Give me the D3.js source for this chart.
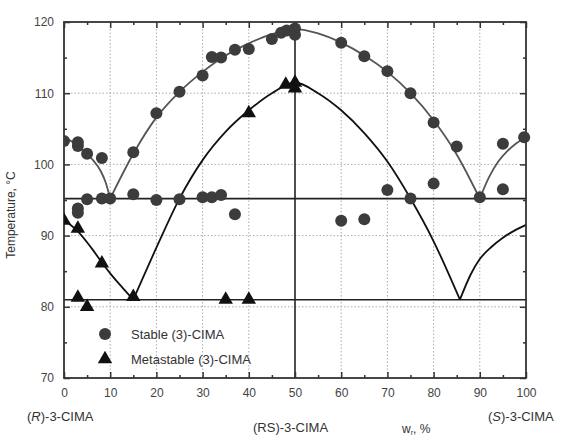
<!DOCTYPE html>
<html><head><meta charset="utf-8">
<script src="https://cdn.jsdelivr.net/npm/d3@7"></script>
<style>body{margin:0;background:#fff}svg{display:block}text{font-family:"Liberation Sans",Arial,sans-serif}</style>
</head><body>
<script>
// ---- data ----
const xTicks = [0,10,20,30,40,50,60,70,80,90,100];
const yTicks = [70,80,90,100,110,120];
const stableX = [0,3,3,5,8.2,15,20,25,30,32,34,37,40,45,47,48.2,50,50,60,65,70,75,80,85,95,99.6,
                 3,3,5,8.2,10,15,20,25,30,32,34,37,60,65,70,75,80,90,95];
const stableY = [103.3,103.1,102.6,101.5,100.9,101.7,107.2,110.2,112.5,115.1,115.0,116.1,116.2,117.6,118.5,118.8,119.1,118.2,117.1,115.2,113.1,110.0,105.9,102.5,102.9,103.8,
                 93.8,93.2,95.1,95.2,95.2,95.8,95.0,95.1,95.4,95.4,95.7,93.0,92.1,92.3,96.4,95.2,97.3,95.4,96.5];
const metaX = [0,3,8.2,15,3,5,35,40,40,48,50,50];
const metaY = [92.1,91.0,86.1,81.4,81.3,80.0,81.0,81.0,107.2,111.2,111.5,110.7];
// stable liquidus branches
const stableCurve1X = [0,2,4,6,8,9,10];
const stableCurve1Y = [103.8,103.1,102.1,100.8,99.0,97.5,95.2];
const stableCurve2X = [10,15,20,25,30,35,40,45,50,55,60,65,70,75,80,85,90];
const stableCurve2Y = [95.2,101.5,106.6,110.2,113.0,115.3,117.0,118.3,119.0,118.4,117.1,115.3,113.0,110.0,106.2,101.4,95.2];
const stableCurve3X = [90,92,94,96,98,100];
const stableCurve3Y = [95.2,98.2,100.4,101.9,103.0,103.9];
// metastable branches
const metaCurve1X = [0,3,6,8,10,12.5,15];
const metaCurve1Y = [92.2,90.6,88.2,86.4,84.7,82.8,81.0];
const metaCurve2X = [15,20,25,30,35,40,45,50,55,60,65,70,75,80,85.7];
const metaCurve2Y = [81.0,88.3,95.2,100.6,104.6,107.6,110.0,111.5,110.0,107.6,104.4,100.4,95.2,89.2,81.0];
const metaCurve3X = [85.7,88,90,92.5,95,97.5,100];
const metaCurve3Y = [81.0,84.5,86.7,88.4,89.7,90.7,91.5];
const eutecticTemps = [95.2, 81.0];
const racemateX = [50];
const legendLabels = ["Stable (3)-CIMA","Metastable (3)-CIMA"];

// ---- chart ----
const W=571,H=438;
const svg=d3.select("body").append("svg").attr("width",W).attr("height",H);
const x=d3.scaleLinear().domain([0,100]).range([64,526]);
const y=d3.scaleLinear().domain([70,120]).range([378,22]);
const [x0,x1]=x.range(), [y0,y1]=y.range();

// grid
const g=svg.append("g");
g.selectAll(".gx").data(xTicks.filter(t=>t>0&&t<100&&t!==50)).join("line")
 .attr("x1",d=>x(d)).attr("x2",d=>x(d)).attr("y1",y1).attr("y2",y0)
 .attr("stroke","#aaa").attr("stroke-width",1).attr("stroke-dasharray","1.5,2");
g.selectAll(".gy").data(yTicks.filter(t=>t>70&&t<120)).join("line")
 .attr("x1",x0).attr("x2",x1).attr("y1",d=>y(d)).attr("y2",d=>y(d))
 .attr("stroke","#aaa").attr("stroke-width",1).attr("stroke-dasharray","1.5,2");

// axes (ticks inside)
const minorX=d3.range(5,100,10), minorY=d3.range(75,120,10);
function axes(){
  const ax=svg.append("g");
  ax.append("g").attr("transform",`translate(0,${y0})`)
    .call(d3.axisBottom(x).tickValues(xTicks).tickSize(-6).tickPadding(10).tickFormat(d3.format("d")));
  ax.append("g").attr("transform",`translate(0,${y0})`)
    .call(d3.axisBottom(x).tickValues(minorX).tickSize(-3).tickFormat(""));
  ax.append("g").attr("transform",`translate(0,${y1})`)
    .call(d3.axisTop(x).tickValues(xTicks).tickSize(-6).tickFormat(""));
  ax.append("g").attr("transform",`translate(0,${y1})`)
    .call(d3.axisTop(x).tickValues(minorX).tickSize(-3).tickFormat(""));
  ax.append("g").attr("transform",`translate(${x0},0)`)
    .call(d3.axisLeft(y).tickValues(yTicks).tickSize(-6).tickPadding(10).tickFormat(d3.format("d")));
  ax.append("g").attr("transform",`translate(${x0},0)`)
    .call(d3.axisLeft(y).tickValues(minorY).tickSize(-3).tickFormat(""));
  ax.append("g").attr("transform",`translate(${x1},0)`)
    .call(d3.axisRight(y).tickValues(yTicks).tickSize(-6).tickFormat(""));
  ax.append("g").attr("transform",`translate(${x1},0)`)
    .call(d3.axisRight(y).tickValues(minorY).tickSize(-3).tickFormat(""));
  ax.selectAll(".domain").remove();
  ax.selectAll(".tick line").attr("stroke","#333").attr("stroke-width",1.5);
  ax.selectAll("text").attr("font-size",12).attr("fill","#444");
  svg.append("rect").attr("x",x0).attr("y",y1).attr("width",x1-x0).attr("height",y0-y1)
    .attr("fill","none").attr("stroke","#333").attr("stroke-width",1.8);
}

// horizontal eutectic lines & vertical racemate line
svg.selectAll(".eu").data(eutecticTemps).join("line")
  .attr("x1",x0).attr("x2",x1).attr("y1",d=>y(d)).attr("y2",d=>y(d))
  .attr("stroke","#222").attr("stroke-width",1.6);
svg.selectAll(".rac").data(racemateX).join("line")
  .attr("x1",d=>x(d)).attr("x2",d=>x(d)).attr("y1",y0).attr("y2",y1)
  .attr("stroke","#222").attr("stroke-width",1.6);

const line=d3.line().x(d=>x(d[0])).y(d=>y(d[1])).curve(d3.curveMonotoneX);
const zip=(a,b)=>a.map((v,i)=>[v,b[i]]);
[[stableCurve1X,stableCurve1Y],[stableCurve2X,stableCurve2Y],[stableCurve3X,stableCurve3Y]].forEach(([a,b])=>{
  svg.append("path").attr("d",line(zip(a,b))).attr("fill","none").attr("stroke","#555").attr("stroke-width",1.8);
});
[[metaCurve1X,metaCurve1Y],[metaCurve2X,metaCurve2Y],[metaCurve3X,metaCurve3Y]].forEach(([a,b])=>{
  svg.append("path").attr("d",line(zip(a,b))).attr("fill","none").attr("stroke","#111").attr("stroke-width",1.8);
});

axes();

// points
svg.append("clipPath").attr("id","pc").append("rect")
  .attr("x",x0).attr("y",y1-8).attr("width",x1-x0+8).attr("height",y0-y1+8);
svg.append("g").attr("clip-path","url(#pc)").selectAll("circle").data(zip(stableX,stableY)).join("circle")
  .attr("cx",d=>x(d[0])).attr("cy",d=>y(d[1])).attr("r",6).attr("fill","#3c3c3c");
const tri=d3.symbol().type(d3.symbolTriangle).size(90);
svg.append("g").attr("clip-path","url(#pc)").selectAll("path").data(zip(metaX,metaY)).join("path")
  .attr("d",tri).attr("transform",d=>`translate(${x(d[0])},${y(d[1])})`).attr("fill","#111");

// legend
const lg=svg.append("g");
lg.append("circle").attr("cx",105).attr("cy",334).attr("r",6).attr("fill","#3c3c3c");
lg.append("path").attr("d",tri).attr("transform","translate(105,359)").attr("fill","#111");
lg.selectAll("text").data(legendLabels).join("text")
  .attr("x",131).attr("y",(d,i)=>339+i*25).attr("font-size",13).attr("fill","#333").text(d=>d);

// axis titles
svg.append("text").attr("transform","translate(15,215) rotate(-90)").attr("text-anchor","middle")
  .attr("font-size",12).attr("fill","#333").text("Temperature, °C");
const lab=svg.append("g").attr("font-size",13).attr("fill","#333");
const t1=lab.append("text").attr("x",27).attr("y",421);
t1.append("tspan").text("(");t1.append("tspan").attr("font-style","italic").text("R");t1.append("tspan").text(")-3-CIMA");
lab.append("text").attr("x",253).attr("y",432).text("(RS)-3-CIMA");
const t3=lab.append("text").attr("x",488).attr("y",421);
t3.append("tspan").text("(");t3.append("tspan").attr("font-style","italic").text("S");t3.append("tspan").text(")-3-CIMA");
const tw=lab.append("text").attr("x",402).attr("y",433).attr("font-size",12);
tw.append("tspan").text("w");tw.append("tspan").attr("font-size",7).attr("dy",2).text("r");
tw.append("tspan").attr("dy",-2).text(", %");
</script>
</body></html>
